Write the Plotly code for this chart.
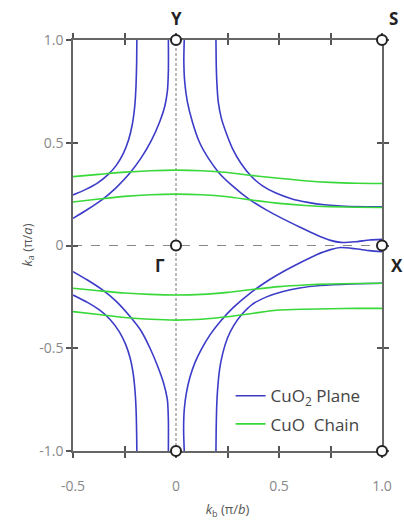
import plotly.graph_objects as go

# ---------------- data ----------------
# CuO chain bands (green): k_b grid and k_a values
chain_kb = [-0.5, -0.375, -0.25, -0.125, 0.0, 0.125, 0.25, 0.375, 0.5, 0.625, 0.75, 0.875, 1.0]
chain_up_outer = [0.335, 0.346, 0.357, 0.364, 0.367, 0.364, 0.355, 0.340, 0.327, 0.315, 0.307, 0.303, 0.302]
chain_up_inner = [0.212, 0.226, 0.239, 0.247, 0.250, 0.247, 0.237, 0.220, 0.205, 0.195, 0.189, 0.186, 0.185]
chain_dn_inner = [-0.208, -0.220, -0.231, -0.238, -0.241, -0.238, -0.228, -0.213, -0.200, -0.192, -0.187, -0.185, -0.184]
chain_dn_outer = [-0.322, -0.336, -0.350, -0.359, -0.363, -0.359, -0.347, -0.330, -0.314, -0.310, -0.308, -0.306, -0.306]

# CuO2 plane Fermi surface sheets (blue)
planeA_kb = [-0.5, -0.44, -0.38, -0.33, -0.29, -0.255, -0.23, -0.212, -0.2, -0.194, -0.191, -0.19]
planeA_ka = [0.246, 0.272, 0.305, 0.345, 0.39, 0.45, 0.515, 0.59, 0.68, 0.78, 0.89, 1.0]

planeB_kb = [-0.5, -0.43, -0.36, -0.29, -0.23, -0.17, -0.12, -0.08, -0.055, -0.042, -0.037, -0.037]
planeB_ka = [0.132, 0.175, 0.222, 0.282, 0.345, 0.425, 0.51, 0.6, 0.675, 0.75, 0.85, 1.0]

planeC_kb = [0.04, 0.038, 0.042, 0.055, 0.08, 0.115, 0.16, 0.21, 0.28, 0.356, 0.44, 0.515, 0.6, 0.68, 0.75, 0.8, 0.87, 0.94, 1.0]
planeC_ka = [1.0, 0.9, 0.8, 0.7, 0.6, 0.5, 0.42, 0.352, 0.285, 0.224, 0.172, 0.132, 0.09, 0.052, 0.025, 0.015, 0.018, 0.027, 0.03]

planeD_kb = [0.194, 0.195, 0.198, 0.205, 0.22, 0.243, 0.275, 0.315, 0.364, 0.42, 0.485, 0.56, 0.64, 0.72, 0.82, 1.0]
planeD_ka = [1.0, 0.9, 0.8, 0.7, 0.62, 0.55, 0.47, 0.4, 0.338, 0.29, 0.255, 0.228, 0.21, 0.198, 0.191, 0.188]

planeA2_kb = [-0.5, -0.43, -0.37, -0.32, -0.275, -0.245, -0.222, -0.207, -0.198, -0.193, -0.191, -0.19]
planeA2_ka = [-0.241, -0.277, -0.315, -0.36, -0.42, -0.48, -0.55, -0.63, -0.72, -0.82, -0.92, -1.0]

planeB2_kb = [-0.5, -0.43, -0.36, -0.29, -0.223, -0.17, -0.126, -0.09, -0.06, -0.042, -0.037, -0.037]
planeB2_ka = [-0.127, -0.168, -0.214, -0.272, -0.346, -0.415, -0.5, -0.585, -0.67, -0.75, -0.85, -1.0]

planeC2_kb = [0.04, 0.037, 0.04, 0.05, 0.068, 0.092, 0.121, 0.165, 0.218, 0.28, 0.356, 0.44, 0.515, 0.6, 0.68, 0.75, 0.8, 0.87, 0.94, 1.0]
planeC2_ka = [-1.0, -0.9, -0.8, -0.72, -0.64, -0.57, -0.509, -0.435, -0.366, -0.3, -0.235, -0.175, -0.13, -0.085, -0.046, -0.02, -0.01, -0.016, -0.025, -0.03]

planeD2_kb = [0.194, 0.195, 0.197, 0.202, 0.212, 0.228, 0.25, 0.28, 0.32, 0.372, 0.44, 0.515, 0.6, 0.7, 0.85, 1.0]
planeD2_ka = [-1.0, -0.9, -0.8, -0.7, -0.6, -0.52, -0.45, -0.39, -0.335, -0.285, -0.25, -0.225, -0.207, -0.195, -0.187, -0.184]

# high-symmetry points
sym_kb = [0, 1, 0, 1, 0, 1]
sym_ka = [1, 1, 0, 0, -1, -1]
sym_labels = ["Y", "S", "Γ", "X"]

x_tickvals = [-0.5, 0, 0.5, 1.0]
x_ticktext = ["-0.5", "0", "0.5", "1.0"]
x_alltick = [-0.5, -0.25, 0, 0.25, 0.5, 0.75, 1.0]
y_tickvals = [-1.0, -0.5, 0, 0.5, 1.0]
y_ticktext = ["-1.0", "-0.5", "0", "0.5", "1.0"]

BLUE = "#3c3cc8"
GREEN = "#38d838"

fig = go.Figure()

plane = [(planeA_kb, planeA_ka), (planeB_kb, planeB_ka), (planeC_kb, planeC_ka), (planeD_kb, planeD_ka),
         (planeA2_kb, planeA2_ka), (planeB2_kb, planeB2_ka), (planeC2_kb, planeC2_ka), (planeD2_kb, planeD2_ka)]
for i, (xs, ys) in enumerate(plane):
    fig.add_trace(go.Scatter(x=xs, y=ys, mode="lines",
                             line=dict(color=BLUE, width=1.6, shape="spline", smoothing=0.6),
                             name="CuO<sub>2</sub> Plane", legendgroup="plane",
                             showlegend=(i == 0), hoverinfo="skip"))

for i, ys in enumerate([chain_up_outer, chain_up_inner, chain_dn_inner, chain_dn_outer]):
    fig.add_trace(go.Scatter(x=chain_kb, y=ys, mode="lines",
                             line=dict(color=GREEN, width=1.6, shape="spline", smoothing=0.6),
                             name="CuO\u00a0 Chain", legendgroup="chain",
                             showlegend=(i == 0), hoverinfo="skip"))

fig.add_hline(y=0, line=dict(color="#888", width=1, dash="dash"), layer="below")
fig.add_vline(x=0, line=dict(color="#777", width=1, dash="3px,2px"), layer="below")

fig.add_trace(go.Scatter(x=sym_kb, y=sym_ka, mode="markers",
                         marker=dict(size=10, color="white", line=dict(color="#222", width=2)),
                         cliponaxis=False, showlegend=False, hoverinfo="skip"))

# dummy trace to activate overlay axes (crossing ticks)
fig.add_trace(go.Scatter(x=[None], y=[None], xaxis="x2", yaxis="y2", showlegend=False))

ann_pos = [(0, 1, 0, 22), (1, 1, 11, 22), (0, 0, -16, -20), (1, 0, 15, -20)]
for lab, (ax_, ay_, dx, dy) in zip(sym_labels, ann_pos):
    fig.add_annotation(x=ax_, y=ay_, text="<b>" + lab + "</b>", showarrow=False,
                       xshift=dx, yshift=dy, font=dict(size=17, color="#222"))

# y-axis title
fig.add_annotation(x=0, y=0.5, xref="paper", yref="paper", xanchor="center", yanchor="middle",
                   xshift=-46, textangle=-90,
                   text="<i>k</i><sub>a</sub> (π/<i>a</i>)", showarrow=False,
                   font=dict(size=13, color="#555"))

tickfont = dict(family="Open Sans, sans-serif", size=14, color="#888")
fig.update_layout(
    width=404, height=520,
    margin=dict(l=73, r=22, t=40, b=69),
    paper_bgcolor="white", plot_bgcolor="white",
    font=dict(family="Open Sans, sans-serif"),
    xaxis=dict(range=[-0.5, 1.0], tickvals=x_tickvals, ticktext=x_ticktext,
               ticks="outside", ticklen=5, tickwidth=1.5, tickcolor="#555",
               minor=dict(dtick=0.25, tick0=0, ticks="outside", ticklen=5, tickwidth=1.5,
                          tickcolor="#555", showgrid=False),
               showline=True, linecolor="#666", linewidth=1.5, mirror="ticks",
               layer="below traces", automargin=False,
               showgrid=False, zeroline=False, tickfont=tickfont, ticklabelstandoff=16,
               title=dict(text="<i>k</i><sub>b</sub> (π/<i>b</i>)", standoff=18,
                          font=dict(size=13, color="#555"))),
    yaxis=dict(range=[-1.0, 1.0], tickvals=y_tickvals, ticktext=y_ticktext,
               ticks="outside", ticklen=5, tickwidth=1.5, tickcolor="#555",
               showline=True, linecolor="#666", linewidth=1.5, mirror="ticks",
               layer="below traces", automargin=False,
               showgrid=False, zeroline=False, tickfont=tickfont),
    xaxis2=dict(range=[-0.5, 1.0], overlaying="x", tickvals=x_alltick, ticks="inside",
                ticklen=5, tickwidth=1.5, tickcolor="#555", mirror="ticks",
                layer="below traces", automargin=False,
                showticklabels=False, showline=False, showgrid=False, zeroline=False),
    yaxis2=dict(range=[-1.0, 1.0], overlaying="y", tickvals=y_tickvals, ticks="inside",
                ticklen=5, tickwidth=1.5, tickcolor="#555", mirror="ticks",
                layer="below traces", automargin=False,
                showticklabels=False, showline=False, showgrid=False, zeroline=False),
    legend=dict(x=0.51, y=0.177, xanchor="left", yanchor="top",
                bgcolor="rgba(255,255,255,0)", font=dict(size=17, color="#444"),
                itemwidth=30, tracegroupgap=3),
    showlegend=True,
)

fig.write_html("out.html")
